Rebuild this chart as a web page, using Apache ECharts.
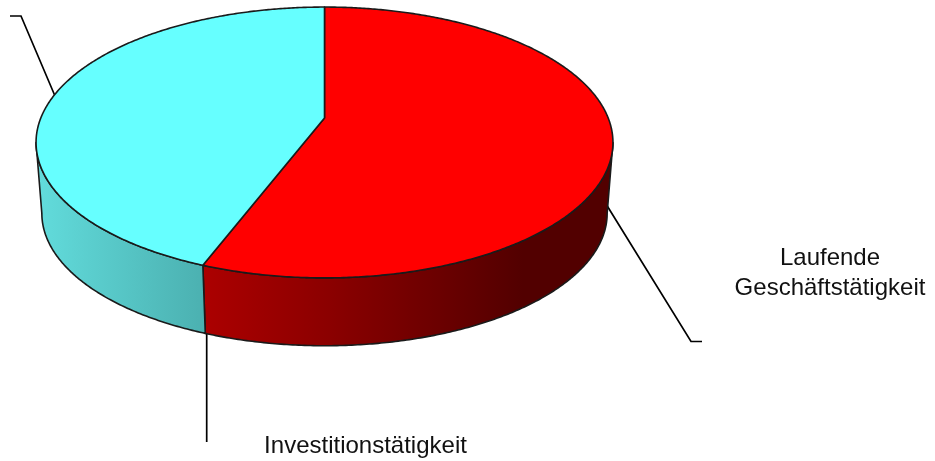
<!DOCTYPE html>
<html><head><meta charset="utf-8">
<style>html,body{margin:0;padding:0;background:#fff}#c{width:935px;height:461px}</style>
<script src="https://cdn.jsdelivr.net/npm/echarts@6/dist/echarts.min.js"></script>
</head><body><div id="c"></div>
<script>
const categories = ['Laufende\nGeschäftstätigkeit', 'Investitionstätigkeit'];
const values = [55.8, 44.2];
const topColors = ['#ff0000', '#66ffff'];
const sideStops = [
  [[0, '#ac0000'], [0.3, '#8c0000'], [0.6, '#680000'], [0.78, '#520000'], [1, '#520000']],
  [[0, '#62dcdc'], [1, '#4bb0b0']]
];

const TOP = {cx: 324.5, cy: 118, rx: 283.7, ry: 131};
const BOTTOM = {cx: 324.5, cy: 189.5, rx: 278, ry: 128};
const K = 0.1807;
const SIL = Math.asin(K) * 180 / Math.PI + 90;

const total = values.reduce((a, b) => a + b, 0);
function range(i) {
  const start = values.slice(0, i).reduce((a, b) => a + b, 0) / total * 360;
  return [start, start + values[i] / total * 360];
}
function proj(d, deg) {
  const t = deg * Math.PI / 180, u = Math.sin(t), v = -Math.cos(t), s = 1 / (1 - K * v);
  return [d.cx + d.rx * u * s, d.cy + d.ry * v * s];
}
function arc(d, a, b) {
  const n = Math.max(2, Math.ceil(Math.abs(b - a) * 2)), p = [];
  for (let j = 0; j <= n; j++) p.push(proj(d, a + (b - a) * j / n));
  return p;
}
function renderSide(params, api) {
  const i = params.dataIndex, r = range(i);
  const a = Math.max(r[0], SIL), b = Math.min(r[1], 360 - SIL);
  if (b <= a) return {type: 'group', children: []};
  const points = arc(TOP, a, b).concat(arc(BOTTOM, b, a));
  return {
    type: 'polygon', shape: {points},
    style: {
      fill: new echarts.graphic.LinearGradient(0, 0, 1, 0, sideStops[i].map(s => ({offset: s[0], color: s[1]}))),
      stroke: '#1a1a1a', lineWidth: 1.6, lineJoin: 'round'
    }
  };
}
function renderTop(params, api) {
  const i = params.dataIndex, r = range(i);
  const points = [[TOP.cx, TOP.cy]].concat(arc(TOP, r[0], r[1]));
  return {
    type: 'polygon', shape: {points},
    style: {fill: topColors[i], stroke: '#1a1a1a', lineWidth: 1.6, lineJoin: 'round'}
  };
}
const data = values.map((v, i) => ({name: categories[i], value: v}));
const font = {fontFamily: '"Liberation Sans", Arial, sans-serif', fontSize: 24, fill: '#111'};
const line = {stroke: '#000', lineWidth: 1.7, fill: null};
const chart = echarts.init(document.getElementById('c'), null, {renderer: 'canvas'});
chart.setOption({
  animation: false,
  backgroundColor: '#fff',
  series: [
    {type: 'custom', coordinateSystem: 'none', renderItem: renderSide, data, z: 2, silent: true},
    {type: 'custom', coordinateSystem: 'none', renderItem: renderTop, data, z: 3, silent: true}
  ],
  graphic: [
    {type: 'polyline', z: 1, shape: {points: [[10, 16], [21, 16], [55, 96]]}, style: line},
    {type: 'polyline', z: 1, shape: {points: [[606, 204], [691, 341.5], [702, 341.5]]}, style: line},
    {type: 'polyline', z: 1, shape: {points: [[206.7, 333], [206.7, 442]]}, style: line},
    {type: 'text', z: 5, x: 830, y: 243, style: Object.assign({text: categories[0], align: 'center', verticalAlign: 'top', lineHeight: 30}, font)},
    {type: 'text', z: 5, x: 365.5, y: 434, style: Object.assign({text: categories[1], align: 'center', verticalAlign: 'top', lineHeight: 24}, font)}
  ]
});
</script></body></html>
